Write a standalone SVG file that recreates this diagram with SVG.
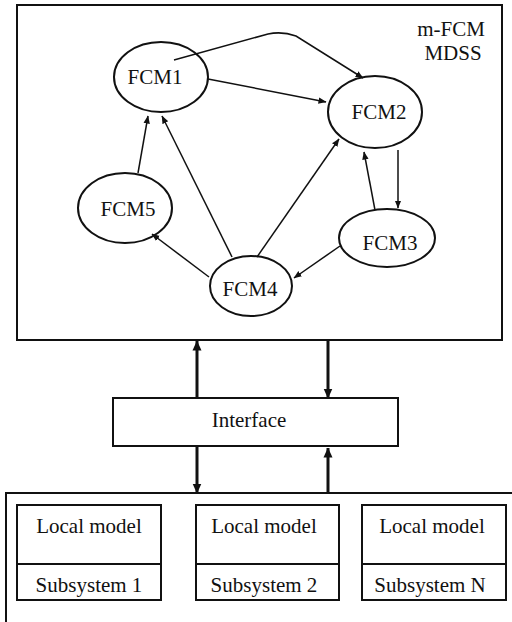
<svg xmlns="http://www.w3.org/2000/svg" width="512" height="622" viewBox="0 0 512 622">
<style>
.box{fill:#fff;stroke:#111;stroke-width:2}
.ell{fill:#fff;stroke:#111;stroke-width:2}
.t{font-family:"Liberation Serif","Times New Roman",serif;font-size:21px;fill:#111;text-anchor:middle}
.c{fill:none;stroke:#111;stroke-width:1.5}
.thick{fill:none;stroke:#111;stroke-width:3}
</style>
<defs>
<marker id="a" markerUnits="userSpaceOnUse" markerWidth="8" markerHeight="8" viewBox="0 0 8 8" refX="7.5" refY="4" orient="auto">
<path d="M0,0.8 L8,4 L0,7.2 Z" fill="#111"/>
</marker>
<marker id="b" markerUnits="userSpaceOnUse" markerWidth="10" markerHeight="10" viewBox="0 0 10 10" refX="9.5" refY="5" orient="auto">
<path d="M0,0.5 L10,5 L0,9.5 Z" fill="#111"/>
</marker>
</defs>
<rect width="512" height="622" fill="#fff"/>
<g id="mdss">
<rect class="box" x="17" y="5" width="485" height="335"/>
<text class="t" x="451" y="36">m-FCM</text>
<text class="t" x="453" y="60">MDSS</text>
</g>
<g id="fcm1"><ellipse class="ell" cx="161" cy="77" rx="47" ry="35"/><text class="t" x="155" y="84">FCM1</text></g>
<g id="fcm2"><ellipse class="ell" cx="375" cy="112" rx="47" ry="36"/><text class="t" x="379" y="119">FCM2</text></g>
<g id="fcm3"><ellipse class="ell" cx="387" cy="238" rx="48" ry="29"/><text class="t" x="390" y="250">FCM3</text></g>
<g id="fcm4"><ellipse class="ell" cx="251" cy="286" rx="41" ry="30"/><text class="t" x="250" y="296">FCM4</text></g>
<g id="fcm5"><ellipse class="ell" cx="125" cy="208" rx="47" ry="35"/><text class="t" x="128" y="216">FCM5</text></g>
<g id="interface">
<rect class="box" x="113" y="398" width="285" height="48"/>
<text class="t" x="249" y="427">Interface</text>
</g>
<g id="local">
<rect class="box" x="6" y="493" width="520" height="200"/>
</g>
<g id="sub1">
<rect class="box" x="17" y="505" width="144" height="95"/>
<line class="box" x1="17" y1="564" x2="161" y2="564"/>
<text class="t" x="89" y="533">Local model</text>
<text class="t" x="89" y="592">Subsystem 1</text>
</g>
<g id="sub2">
<rect class="box" x="196" y="505" width="143" height="95"/>
<line class="box" x1="196" y1="564" x2="339" y2="564"/>
<text class="t" x="264" y="533">Local model</text>
<text class="t" x="264" y="592">Subsystem 2</text>
</g>
<g id="subN">
<rect class="box" x="362" y="505" width="144" height="95"/>
<line class="box" x1="362" y1="564" x2="506" y2="564"/>
<text class="t" x="432" y="533">Local model</text>
<text class="t" x="430" y="592">Subsystem N</text>
</g>
<g id="connectors">
<path class="c" marker-end="url(#a)" d="M174,60 L268,34 Q282,31 296,36 L363,78"/>
<path class="c" marker-end="url(#a)" d="M208,79 L326,102"/>
<path class="c" marker-end="url(#a)" d="M138,173 L148,116"/>
<path class="c" marker-end="url(#a)" d="M232,257 L162,116"/>
<path class="c" marker-end="url(#a)" d="M257,257 L339,139"/>
<path class="c" marker-end="url(#a)" d="M398,150 L398,208"/>
<path class="c" marker-end="url(#a)" d="M375,210 L364,152"/>
<path class="c" marker-end="url(#a)" d="M340,246 L294,278"/>
<path class="c" marker-end="url(#a)" d="M209,277 L152,234"/>
<path class="thick" marker-end="url(#b)" d="M197,398 L197,341"/>
<path class="thick" marker-end="url(#b)" d="M328,340 L328,398"/>
<path class="thick" marker-end="url(#b)" d="M197,446 L197,493"/>
<path class="thick" marker-end="url(#b)" d="M328,493 L328,448"/>
</g>
</svg>
